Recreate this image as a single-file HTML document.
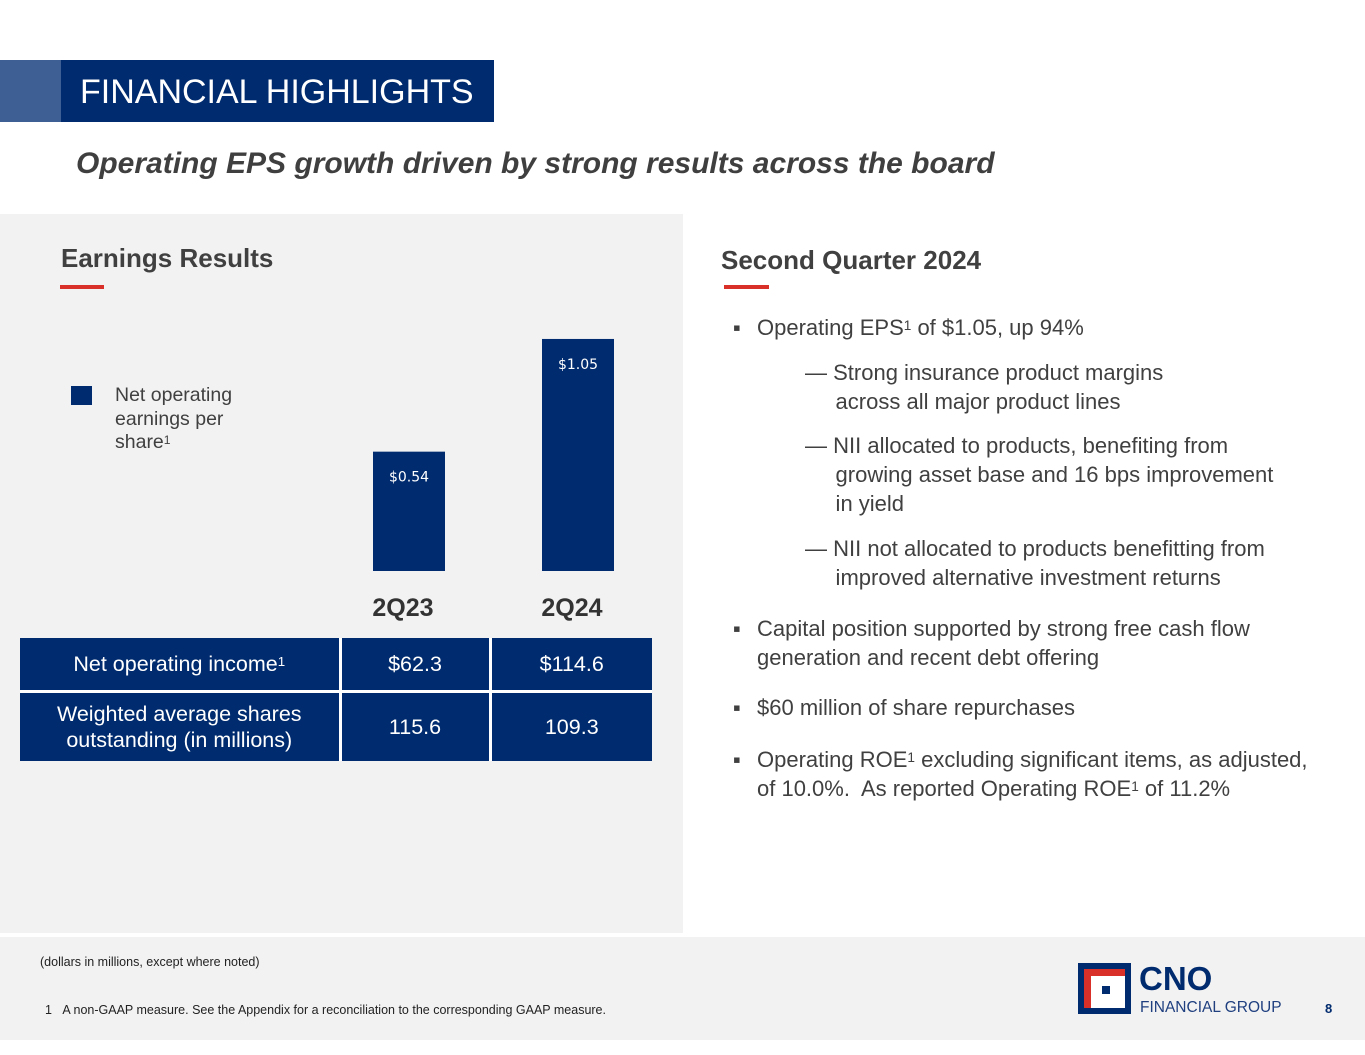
<!DOCTYPE html>
<html><head><meta charset="utf-8"><style>
*{margin:0;padding:0;box-sizing:border-box}
body{width:1365px;height:1055px;position:relative;background:#fff;font-family:"Liberation Sans",Arial,sans-serif;overflow:hidden;color:#404040}
.abs{position:absolute}
sup{font-size:62%;vertical-align:top;position:relative;top:-2px}
.b{font-size:22px;line-height:29px;color:#404040;white-space:nowrap}
td{color:#fff;text-align:center;font-size:21.5px;line-height:26px}
</style></head><body>
<div class="abs" style="left:0;top:60px;width:61px;height:62px;background:#3d5f94"></div>
<div class="abs" style="left:61px;top:60px;width:433px;height:62px;background:#002b6e;color:#fff;font-size:34px;line-height:64px;padding-left:19px">FINANCIAL HIGHLIGHTS</div>
<div class="abs" style="left:76px;top:147px;font-size:30px;font-weight:bold;font-style:italic;color:#3f3f3f">Operating EPS growth driven by strong results across the board</div>

<div class="abs" style="left:0;top:214px;width:683px;height:719px;background:#f2f2f2"></div>
<div class="abs" style="left:61px;top:243px;font-size:26px;font-weight:bold;color:#404040">Earnings Results</div>
<div class="abs" style="left:60px;top:285px;width:44px;height:4px;background:#d9302a"></div>

<div class="abs" style="left:71px;top:386px;width:21px;height:19px;background:#002b6e"></div>
<div class="abs" style="left:115px;top:384px;font-size:19.5px;line-height:23.5px;color:#404040">Net operating<br>earnings per<br>share<sup>1</sup></div>

<svg class="abs" style="left:0;top:0" width="683" height="640" id="chart"></svg>

<table class="abs" style="left:20px;top:638px;width:632px;border-collapse:collapse">
<tr style="height:53px"><td style="background:#002b6e;width:320px;border-bottom:3px solid #fff;border-right:3px solid #fff">Net operating income<sup>1</sup></td><td style="background:#002b6e;width:150px;border-bottom:3px solid #fff;border-right:3px solid #fff">$62.3</td><td style="background:#002b6e;border-bottom:3px solid #fff">$114.6</td></tr>
<tr style="height:70px"><td style="background:#002b6e;border-right:3px solid #fff">Weighted average shares<br>outstanding (in millions)</td><td style="background:#002b6e;border-right:3px solid #fff">115.6</td><td style="background:#002b6e">109.3</td></tr>
</table>

<div class="abs" style="left:721px;top:245px;font-size:26px;font-weight:bold;color:#404040">Second Quarter 2024</div>
<div class="abs" style="left:724px;top:285px;width:45px;height:4px;background:#d9302a"></div>

<div>
<div class="abs b" style="left:733px;top:313px">▪</div>
<div class="abs b" style="left:757px;top:313px">Operating EPS<sup>1</sup> of $1.05, up 94%</div>
<div class="abs b" style="left:805px;top:358px">— Strong insurance product margins<br>&nbsp;&nbsp;&nbsp;&nbsp;&nbsp;across all major product lines</div>
<div class="abs b" style="left:805px;top:431px">— NII allocated to products, benefiting from<br>&nbsp;&nbsp;&nbsp;&nbsp;&nbsp;growing asset base and 16 bps improvement<br>&nbsp;&nbsp;&nbsp;&nbsp;&nbsp;in yield</div>
<div class="abs b" style="left:805px;top:534px">— NII not allocated to products benefitting from<br>&nbsp;&nbsp;&nbsp;&nbsp;&nbsp;improved alternative investment returns</div>
<div class="abs b" style="left:733px;top:614px">▪</div>
<div class="abs b" style="left:757px;top:614px">Capital position supported by strong free cash flow<br>generation and recent debt offering</div>
<div class="abs b" style="left:733px;top:693px">▪</div>
<div class="abs b" style="left:757px;top:693px">$60 million of share repurchases</div>
<div class="abs b" style="left:733px;top:745px">▪</div>
<div class="abs b" style="left:757px;top:745px">Operating ROE<sup>1</sup> excluding significant items, as adjusted,<br>of 10.0%.&nbsp; As reported Operating ROE<sup>1</sup> of 11.2%</div>
</div>

<div class="abs" style="left:0;top:937px;width:1365px;height:103px;background:#f2f2f2"></div>
<div class="abs" style="left:40px;top:955px;font-size:12.5px;color:#222">(dollars in millions, except where noted)</div>
<div class="abs" style="left:45px;top:1003px;font-size:12.5px;color:#222">1&nbsp;&nbsp;&nbsp;A non-GAAP measure. See the Appendix for a reconciliation to the corresponding GAAP measure.</div>
<div class="abs" style="left:1078px;top:963px;width:53px;height:51px;background:#002b6e">
 <div class="abs" style="left:6px;top:6px;width:41px;height:39px;background:#d9302a"></div>
 <div class="abs" style="left:13px;top:13px;width:34px;height:32px;background:#fff"></div>
 <div class="abs" style="left:24px;top:23px;width:8px;height:8px;background:#002b6e"></div>
</div>
<div class="abs" style="left:1139px;top:962px;font-size:33px;font-weight:bold;color:#002b6e;line-height:34px">CNO</div>
<div class="abs" style="left:1140px;top:999px;font-size:15.5px;color:#1f3f7f">FINANCIAL GROUP</div>
<div class="abs" style="left:1325px;top:1001px;font-size:13px;font-weight:bold;color:#002b6e">8</div>

<script>
const categories=["2Q23","2Q24"];
const epsValues=[0.54,1.05];
const valueLabels=["$0.54","$1.05"];
const svg=document.getElementById('chart');
const NS='http://www.w3.org/2000/svg';
const baseY=571, pxPerUnit=221;
const y=v=>baseY-v*pxPerUnit;
const x=i=>373+i*169;
const bw=72;
categories.forEach((c,i)=>{
 const r=document.createElementNS(NS,'rect');
 
 
 r.setAttribute('x',x(i));r.setAttribute('y',y(epsValues[i]));
 r.setAttribute('width',bw);r.setAttribute('height',baseY-y(epsValues[i]));
 r.setAttribute('fill','#002b6e');svg.appendChild(r);
 const t=document.createElementNS(NS,'text');
 
 
 t.setAttribute('x',x(i)+bw/2);t.setAttribute('y',y(epsValues[i])+30);
 t.setAttribute('text-anchor','middle');t.setAttribute('fill','#fff');
 t.setAttribute('font-size','14');t.setAttribute('font-family','"DejaVu Sans","Liberation Sans",sans-serif');
 t.textContent=valueLabels[i];svg.appendChild(t);
 const l=document.createElementNS(NS,'text');
 
 
 l.setAttribute('x',x(i)+bw/2-6);l.setAttribute('y',616);
 l.setAttribute('text-anchor','middle');l.setAttribute('fill','#333');
 l.setAttribute('font-size','25');l.setAttribute('font-weight','bold');
 l.setAttribute('font-family','"Liberation Sans",sans-serif');
 l.textContent=c;svg.appendChild(l);
});
</script>
</body></html>
